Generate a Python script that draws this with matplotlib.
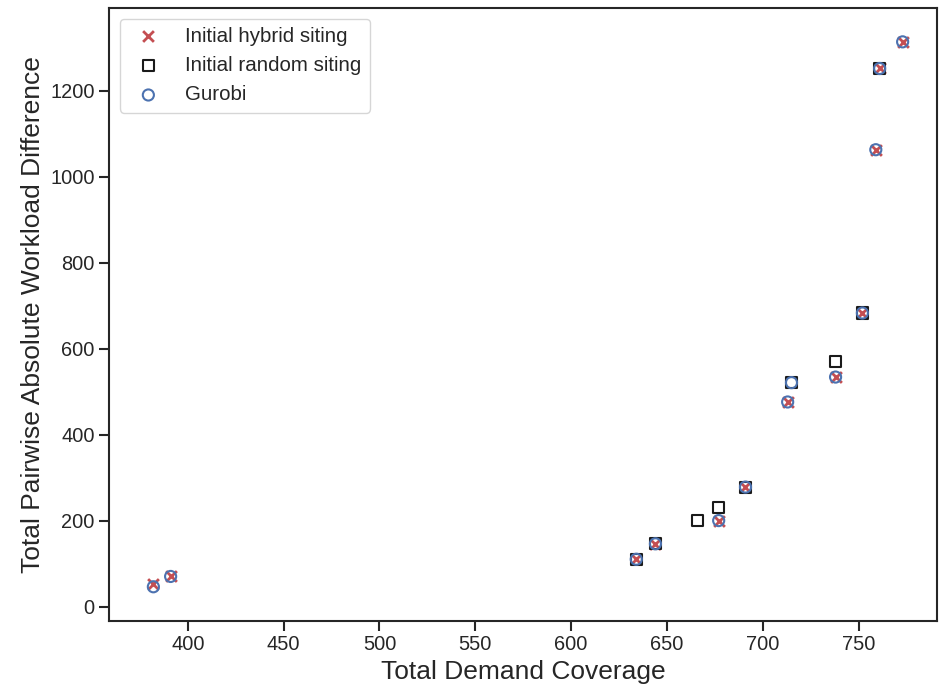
import matplotlib
matplotlib.use("Agg")
import matplotlib.pyplot as plt

plt.rcParams['font.family'] = ['Liberation Sans', 'DejaVu Sans']

# Pareto points
hybrid_x = [382, 391, 634, 644, 677, 691, 713, 738, 752, 759, 761, 773]
hybrid_y = [53, 70, 110, 146, 200, 278, 476, 534, 683, 1063, 1252, 1314]

random_x = [634, 644, 666, 677, 691, 715, 738, 752, 761]
random_y = [110, 146, 200, 231, 278, 521, 570, 683, 1252]

gurobi_x = [382, 391, 634, 644, 677, 691, 713, 715, 738, 752, 759, 761, 773]
gurobi_y = [46, 70, 110, 146, 200, 278, 476, 521, 534, 683, 1063, 1252, 1314]

fig = plt.figure(figsize=(9.39, 6.94), dpi=100)
ax = fig.add_axes([0.1164, 0.1056, 0.8816, 0.8824])

ax.scatter(hybrid_x, hybrid_y, marker='x', s=60, color='#C44E52', linewidths=2,
           label='Initial hybrid siting')
ax.scatter(random_x, random_y, marker='s', s=64, facecolors='none', edgecolors='#1a1a1a',
           linewidths=1.5, label='Initial random siting')
ax.scatter(gurobi_x, gurobi_y, marker='o', s=64, facecolors='none', edgecolors='#4C72B0',
           linewidths=1.5, label='Gurobi')

ax.set_xlim(359, 791)
ax.set_ylim(-33, 1392)
ax.set_xticks(range(400, 751, 50))
ax.set_yticks(range(0, 1201, 200))

for sp in ax.spines.values():
    sp.set_linewidth(1.5)
    sp.set_color('#262626')
ax.tick_params(direction='out', length=7, width=1.5, color='#262626',
               labelsize=14.4, labelcolor='#262626')

ax.set_xlabel("Total Demand Coverage", fontsize=19, color='#262626')
ax.set_ylabel("Total Pairwise Absolute Workload Difference", fontsize=19, color='#262626')

leg = ax.legend(loc='upper left', fontsize=14.8, frameon=True, labelcolor='#262626')
leg.get_frame().set_edgecolor('#cccccc')

fig.savefig("out.png", dpi=100)
